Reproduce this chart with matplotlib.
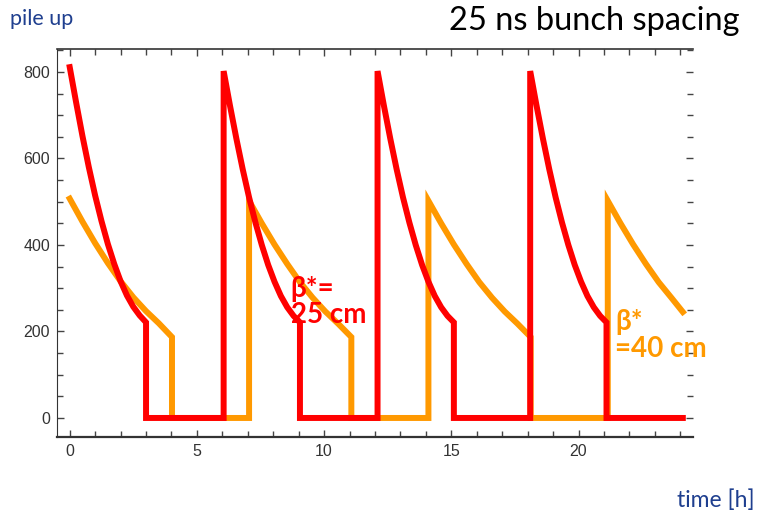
import matplotlib.pyplot as plt
from matplotlib.ticker import MultipleLocator

plt.rcParams["font.family"] = ["Liberation Sans", "DejaVu Sans"]

# beta* = 25 cm (red): one fill, hours after the fill starts
red_dt = [0.0, 0.25, 0.5, 0.75, 1.0, 1.25, 1.5, 1.75, 2.0, 2.25, 2.5, 2.75, 3.0]
red_first = [811, 730, 652, 580, 514, 455, 402, 356, 316, 283, 257, 237, 221]
red_later = [802, 722, 646, 575, 510, 452, 400, 354, 315, 282, 256, 236, 221]
red_starts = [0.0, 6.05, 12.1, 18.1]
red_end = 24.1

# beta* = 40 cm (orange)
orange_dt = [0.0, 0.5, 1.0, 1.5, 2.0, 2.5, 3.0, 3.5, 4.02]
orange_first = [507, 454, 404, 358, 316, 279, 247, 219, 187]
orange_later = [502, 450, 401, 356, 314, 278, 246, 218, 187]
orange_starts = [0.0, 7.05, 14.1, 21.15]
orange_end = 24.1
orange_last_v = 245

RED = "#ff0000"
ORANGE = "#ff9900"
BLUE = "#1f3f8f"


def build(starts, dt, first, later, end):
    t, v = [], []
    for i, s in enumerate(starts):
        vals = first if i == 0 else later
        seg_t = [s + d for d in dt]
        seg_v = list(vals)
        if seg_t[-1] > end:
            # last fill is cut by the end of the plot
            keep = [k for k, x in enumerate(seg_t) if x < end]
            t += [seg_t[k] for k in keep] + [end]
            v += [seg_v[k] for k in keep]
            return t, v
        t += seg_t + [seg_t[-1]]
        v += seg_v + [0]
        nxt = starts[i + 1] if i + 1 < len(starts) else end
        t.append(nxt)
        v.append(0)
    return t, v


red_t, red_v = build(red_starts, red_dt, red_first, red_later, red_end)
orange_t, orange_v = build(orange_starts, orange_dt, orange_first, orange_later, orange_end)
orange_v.append(orange_last_v)

fig = plt.figure(figsize=(7.67, 5.19), dpi=100)
ax = fig.add_axes([57 / 767, 1 - 437 / 519, (693 - 57) / 767, (437 - 49) / 519])

ax.plot(orange_t, orange_v, color=ORANGE, lw=4.3, solid_joinstyle="miter", zorder=2)
ax.plot(red_t, red_v, color=RED, lw=4.3, solid_joinstyle="miter", zorder=3)

ax.set_xlim(-0.5, 24.5)
ax.set_ylim(-44, 853)
ax.set_xticks([0, 5, 10, 15, 20])
ax.set_yticks([0, 200, 400, 600, 800])
ax.xaxis.set_minor_locator(MultipleLocator(1))
ax.yaxis.set_minor_locator(MultipleLocator(50))

ax.tick_params(which="both", direction="in", top=True, right=True,
               labelsize=11.5, labelcolor="#333333", color="#444444", width=1)
ax.tick_params(which="major", length=5, pad=5)
ax.tick_params(which="minor", length=4)

for s in ["left", "bottom", "top"]:
    ax.spines[s].set_color("#333333")
ax.spines["bottom"].set_linewidth(1.6)
ax.spines["top"].set_linewidth(1.2)
ax.spines["right"].set_visible(False)

ax.text(8.68, 268, "β*=\n25 cm", color=RED, fontsize=20, fontweight="bold",
        family=["Lato", "DejaVu Sans"], ha="left", va="center", linespacing=1.0)
ax.text(21.45, 191, "β*\n=40 cm", color=ORANGE, fontsize=20, fontweight="bold",
        family=["Lato", "DejaVu Sans"], ha="left", va="center", linespacing=1.05)

fig.text(10 / 767, 1 - 19 / 519, "pile up", color=BLUE, fontsize=15.5,
         family="Lato", ha="left", va="center")
fig.text(740 / 767, 1 - 21 / 519, "25 ns bunch spacing", color="black", fontsize=23.5,
         family="Lato", ha="right", va="center")
fig.text(755 / 767, 1 - 500 / 519, "time [h]", color=BLUE, fontsize=16.5,
         family="Lato", ha="right", va="center")

fig.savefig("out.png", dpi=100)
